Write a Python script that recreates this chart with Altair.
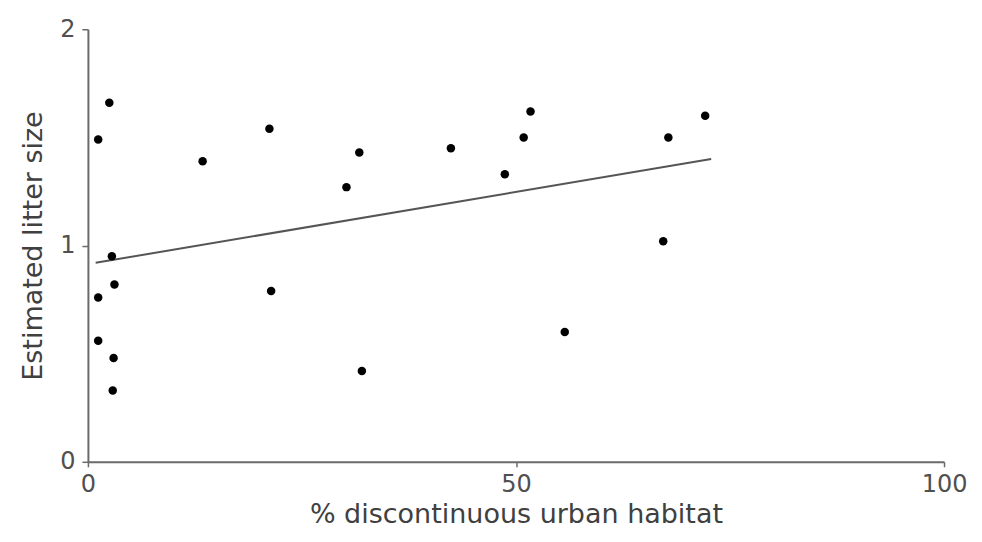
import altair as alt
import pandas as pd

# % discontinuous urban habitat (x) and estimated litter size (y)
urban_pct = [2.5, 1.2, 13.4, 21.2, 31.7, 30.2, 2.8, 3.1, 1.2, 21.4, 1.2, 3.0,
             2.9, 32.0, 42.4, 51.7, 50.9, 48.7, 67.8, 72.1, 67.2, 55.7]
litter_size = [1.66, 1.49, 1.39, 1.54, 1.43, 1.27, 0.95, 0.82, 0.76, 0.79, 0.56, 0.48,
               0.33, 0.42, 1.45, 1.62, 1.50, 1.33, 1.50, 1.60, 1.02, 0.60]

# fitted regression line endpoints
fit_x = [0.9, 72.8]
fit_y = [0.92, 1.40]

x_ticks = [0, 50, 100]
y_ticks = [0, 1, 2]

pts = pd.DataFrame({"x": urban_pct, "y": litter_size})
fit = pd.DataFrame({"x": fit_x, "y": fit_y})

FONT = "DejaVu Sans"

x_scale = alt.Scale(domain=[0, 100], nice=False, zero=False)
y_scale = alt.Scale(domain=[0, 2], nice=False, zero=False)

x_axis = alt.Axis(
    title="% discontinuous urban habitat",
    values=x_ticks,
    labelExpr="format(datum.value, 'd')",
    grid=False,
    labelFlush=False,
    tickSize=5,
    labelPadding=6,
    titlePadding=5,
)
y_axis = alt.Axis(
    title="Estimated litter size",
    values=y_ticks,
    labelExpr="format(datum.value, 'd')",
    grid=False,
    tickSize=6,
    labelPadding=7,
    titlePadding=12,
)

points = alt.Chart(pts).mark_circle(size=72, color="black", opacity=1).encode(
    x=alt.X("x:Q", scale=x_scale, axis=x_axis),
    y=alt.Y("y:Q", scale=y_scale, axis=y_axis),
)
line = alt.Chart(fit).mark_line(color="#555555", strokeWidth=2).encode(
    x=alt.X("x:Q", scale=x_scale, axis=x_axis),
    y=alt.Y("y:Q", scale=y_scale, axis=y_axis),
)

chart = (
    alt.layer(line, points)
    .properties(
        width=857,
        height=433,
        autosize=alt.AutoSizeParams(type="none"),
        padding={"left": 80, "top": 21, "right": 30, "bottom": 78},
    )
    .configure_view(stroke=None)
    .configure_axis(
        domainColor="#6a6a6a",
        domainWidth=2,
        tickColor="#6a6a6a",
        tickWidth=1.5,
        labelFont=FONT,
        labelFontSize=24,
        labelColor="#505050",
        titleFont=FONT,
        titleFontSize=27,
        titleFontWeight="normal",
        titleColor="#404040",
    )
)

chart.save("out.html", embed_options={"renderer": "svg", "actions": False})
